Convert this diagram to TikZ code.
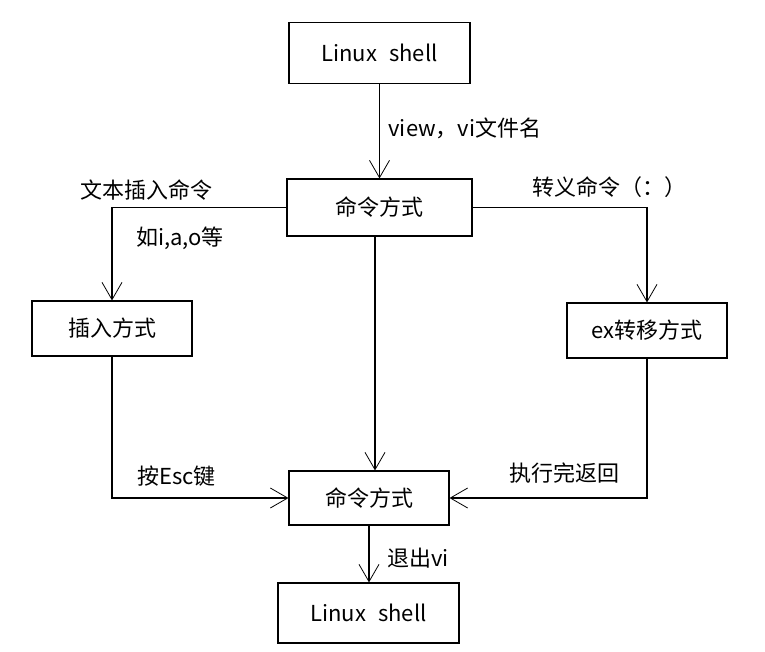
\documentclass[tikz,border=0pt]{standalone}
\usepackage{fontspec}
\setmainfont{Noto Sans CJK SC}
\usetikzlibrary{arrows.meta}
\begin{document}
\begin{tikzpicture}[x=0.75pt,y=-0.75pt,
  font=\fontsize{16.5}{19}\selectfont,
  box/.style={draw, line width=0.8pt, inner sep=0pt, align=center},
  lbl/.style={inner sep=0pt},
  arr/.style={line width=0.8pt, -{Straight Barb[length=13pt,width=15pt,line width=0.6pt]}},
  ln/.style={line width=0.8pt}]
\useasboundingbox (0,0) rectangle (765,651);
\node[box, minimum width=135.75pt, minimum height=45.75pt] (top) at (379.5,53) {Linux\hspace{0.55em}shell};
\node[box, minimum width=138.75pt, minimum height=42.75pt] (cmdA) at (379.5,207.5) {命令方式};
\node[box, minimum width=120pt, minimum height=41.25pt] (ins) at (112,328.5) {插入方式};
\node[box, minimum width=120pt, minimum height=41.25pt] (ex) at (647,330.5) {ex转移方式};
\node[box, minimum width=120pt, minimum height=40.5pt] (cmdB) at (369,498) {命令方式};
\node[box, minimum width=135.75pt, minimum height=45pt] (bot) at (368.5,613) {Linux\hspace{0.55em}shell};
\coordinate (cx) at (375,0);
\draw[arr] (top) -- (cmdA);
\draw[arr] (cmdA.west) -| (ins.north);
\draw[arr] (cmdA.east) -| (ex.north);
\draw[arr] (cmdA.south -| cx) -- (cmdB.north -| cx);
\draw[arr] (ins.south) |- (cmdB.west);
\draw[arr] (ex.south) |- (cmdB.east);
\draw[arr] (cmdB.south) -- (cmdB.south |- bot.north);
\node[lbl] (l1) at (465,128) {view，vi文件名};
\node[lbl] (l2) at (146,190) {文本插入命令};
\node[lbl] (l3) at (180,238) {如i,a,o等};
\node[lbl] (l4) at (609.5,187) {转义命令（：）};
\node[lbl] (l5) at (176.5,476) {按Esc键};
\node[lbl] (l6) at (564,473) {执行完返回};
\node[lbl] (l7) at (418,558) {退出vi};
\end{tikzpicture}
\end{document}
